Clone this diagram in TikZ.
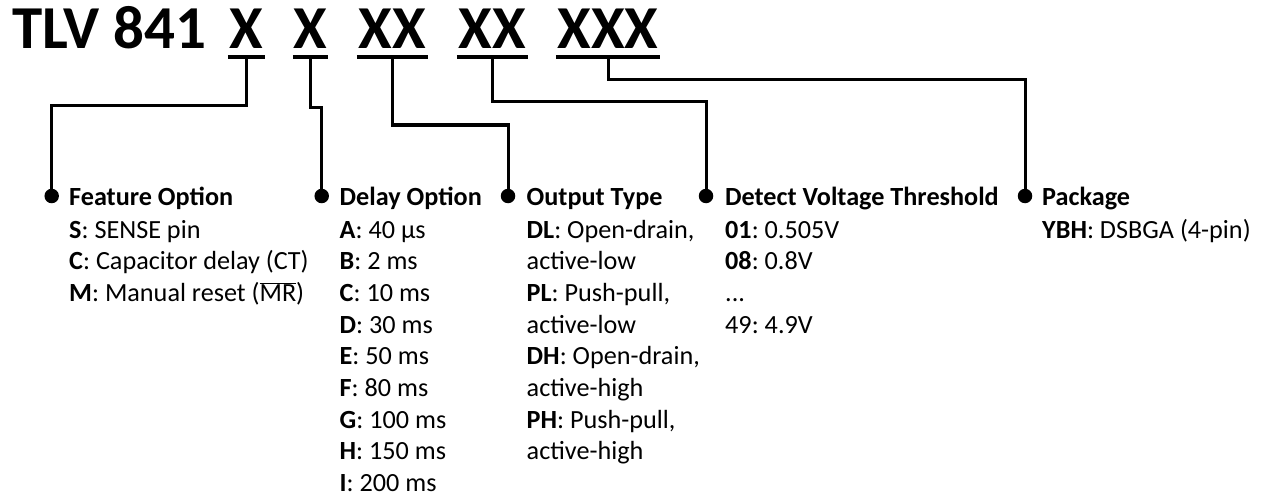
\documentclass[tikz,border=0pt]{standalone}
\usepackage{fontspec}
\setmainfont{Carlito}
\frenchspacing
\newcommand{\collines}[1]{\begin{tabular}[t]{@{}l@{}}#1\end{tabular}}
\begin{document}
\begin{tikzpicture}[x=1pt,y=-1pt,
  title/.style={font=\fontsize{61}{64}\selectfont\bfseries, inner sep=0pt, anchor=base},
  conn/.style={line width=3pt, line join=miter},
  uline/.style={line width=3.5pt},
  dot/.style={circle, fill=black, inner sep=0pt, minimum size=14.5pt},
  head/.style={font=\fontsize{26.2}{31.7}\selectfont\bfseries, inner sep=0pt, anchor=base west},
  body/.style={font=\fontsize{26.2}{31.7}\selectfont, inner sep=0pt, anchor=base west}]
\useasboundingbox[fill=white] (0,0) rectangle (1265,500);
% title
\node[title, anchor=base west] (tlv) at (12,49) {TLV 841};
\node[title, minimum width=37pt] (x1) at (246.5,49) {X};
\node[title, minimum width=35pt] (x2) at (310.5,49) {X};
\node[title, minimum width=71pt] (x3) at (392.5,49) {XX};
\node[title, minimum width=71pt] (x4) at (492.5,49) {XX};
\node[title, minimum width=104pt] (x5) at (608,49) {XXX};
\foreach \n in {x1,x2,x3,x4,x5}{
  \draw[uline] ([yshift=-8pt]\n.base west) -- ([yshift=-8pt]\n.base east);
  \coordinate (u\n) at ([yshift=-8pt]\n.base);
}
% dots
\node[dot] (d1) at (51.7,196) {};
\node[dot] (d2) at (321.7,196) {};
\node[dot] (d3) at (508,196) {};
\node[dot] (d4) at (706,196) {};
\node[dot] (d5) at (1025,196) {};
% connectors
\draw[conn] (ux1) -- (ux1 |- 0,106) -| (d1);
\draw[conn] (ux2) -- (ux2 |- 0,108) -| (d2);
\draw[conn] (ux3) -- (ux3 |- 0,125) -| (d3);
\draw[conn] (ux4) -- (ux4 |- 0,102) -| (d4);
\draw[conn] (ux5) -- (ux5 |- 0,80) -| (d5);
% labels
\node[head] (h1) at (69,205) {Feature Option};
\node[body] (b1) at (69,238) {\collines{\textbf{S}: SENSE pin\\\textbf{C}: Capacitor delay (CT)\\\textbf{M}: Manual reset (\(\overline{\mbox{MR}}\))}};
\node[head] (h2) at (339.5,205) {Delay Option};
\node[body] (b2) at (339.5,238) {\collines{\textbf{A}: 40 µs\\\textbf{B}: 2 ms\\\textbf{C}: 10 ms\\\textbf{D}: 30 ms\\\textbf{E}: 50 ms\\\textbf{F}: 80 ms\\\textbf{G}: 100 ms\\\textbf{H}: 150 ms\\\textbf{I}: 200 ms}};
\node[head] (h3) at (526.5,205) {Output Type};
\node[body] (b3) at (526.5,238) {\collines{\textbf{DL}: Open-drain,\\active-low\\\textbf{PL}: Push-pull,\\active-low\\\textbf{DH}: Open-drain,\\active-high\\\textbf{PH}: Push-pull,\\active-high}};
\node[head] (h4) at (725,205) {Detect Voltage Threshold};
\node[body] (b4) at (725,238) {\collines{\textbf{01}: 0.505V\\\textbf{08}: 0.8V\\...\\49: 4.9V}};
\node[head] (h5) at (1042,205) {Package};
\node[body] (b5) at (1042,238) {\collines{\textbf{YBH}: DSBGA (4-pin)}};
\end{tikzpicture}
\end{document}
